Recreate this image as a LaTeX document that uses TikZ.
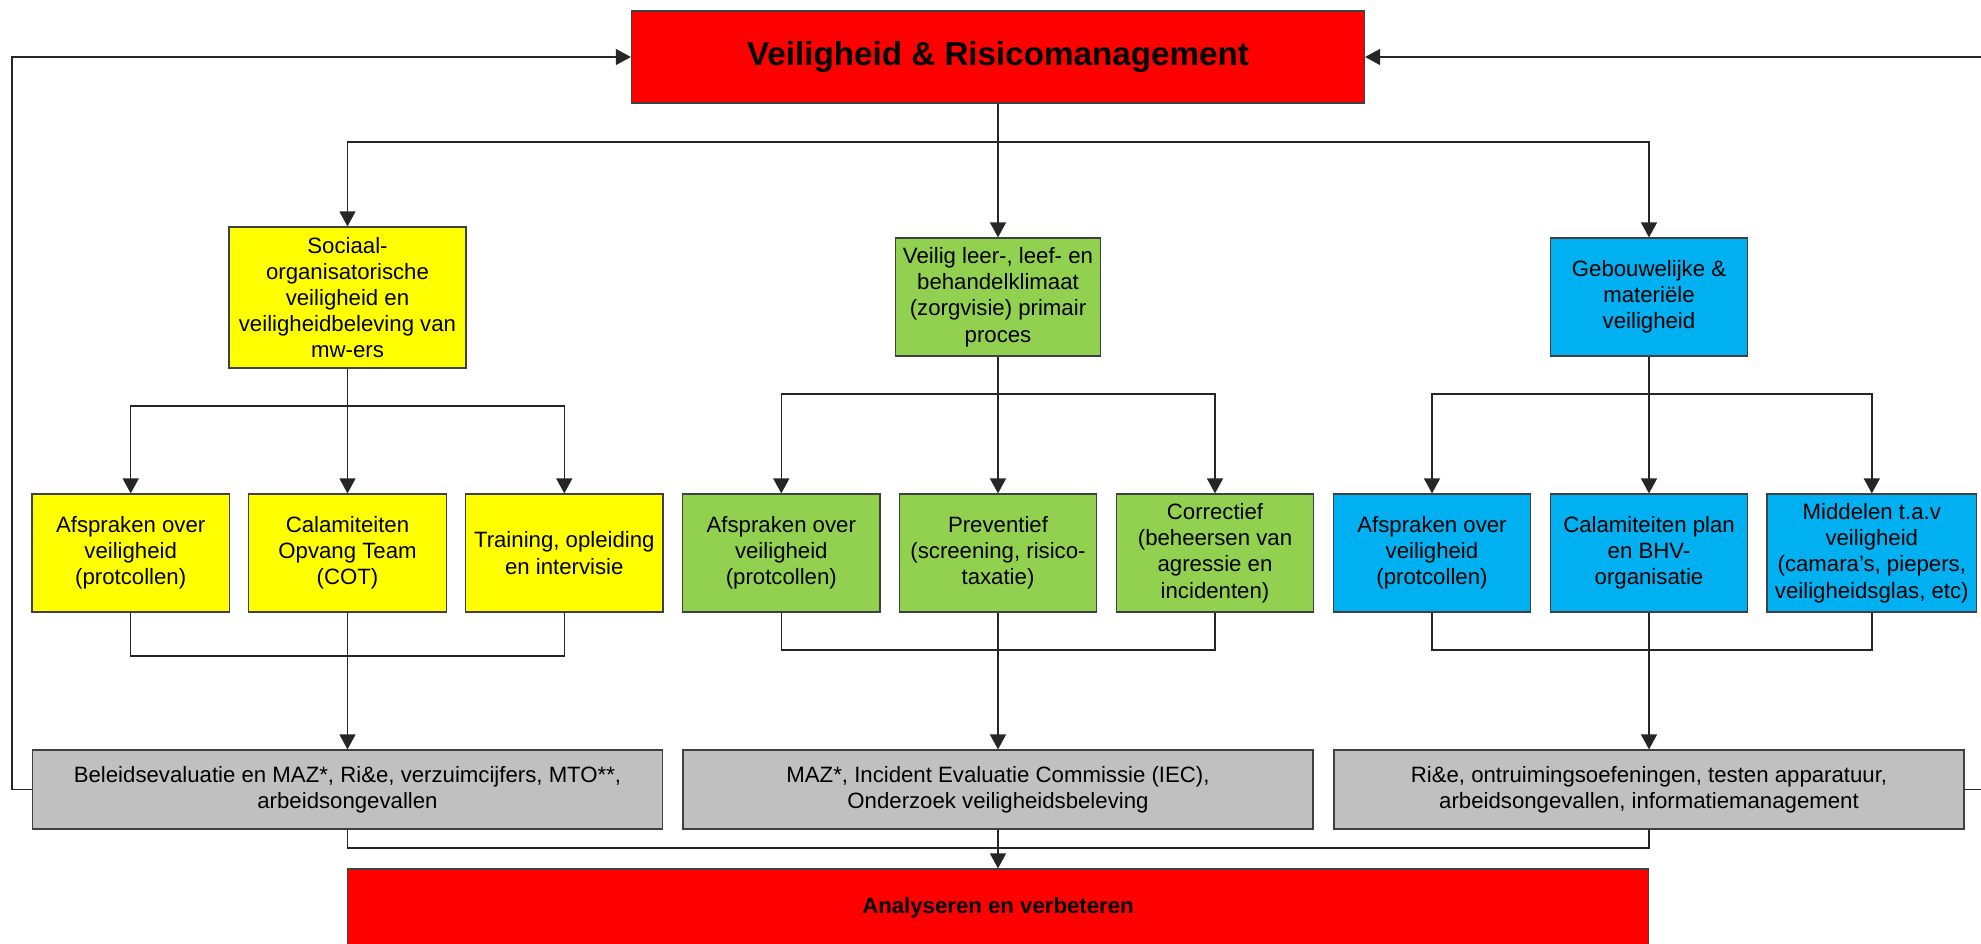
\documentclass[tikz,border=0pt]{standalone}
\usepackage{fontspec}
\setmainfont{Liberation Sans}
\usetikzlibrary{arrows.meta}
\definecolor{cred}{HTML}{FF0000}
\definecolor{cyel}{HTML}{FFFF00}
\definecolor{cgrn}{HTML}{92D050}
\definecolor{cblu}{HTML}{00B0F0}
\definecolor{cgry}{HTML}{C0C0C0}
\begin{document}
\begin{tikzpicture}[x=0.5pt,y=-0.5pt,
  box/.style={draw=black!75, line width=0.6pt, align=center, inner sep=0pt,
    font=\fontsize{11.1}{13.1}\selectfont},
  lthree/.style={box, minimum width=98.7pt, minimum height=59pt},
  gbox/.style={box, fill=cgry, minimum width=315pt, minimum height=39.5pt},
  ln/.style={draw=black!85, line width=0.7pt},
  arr/.style={ln, -{Triangle[length=7.5pt,width=8pt]}}
]
\useasboundingbox (0,0) rectangle (1981,943);
\clip (0,0) rectangle (1981,943);

% top
\node[box, fill=cred, minimum width=366.5pt, minimum height=46pt,
  font=\fontsize{16.6}{20}\selectfont\bfseries] (top) at (998,57) {Veiligheid \& Risicomanagement};

% level 2
\node[box, fill=cyel, minimum width=118.5pt, minimum height=70.5pt] (soc) at (347.5,297.5)
  {Sociaal-\\organisatorische\\veiligheid en\\veiligheidbeleving van\\mw-ers};
\node[box, fill=cgrn, minimum width=102.5pt, minimum height=59pt] (klim) at (998,297)
  {Veilig leer-, leef- en\\behandelklimaat\\(zorgvisie) primair\\proces};
\node[box, fill=cblu, minimum width=98.5pt, minimum height=59pt] (geb) at (1649,297)
  {Gebouwelijke \&\\materiële\\veiligheid};

% level 3
\node[lthree, fill=cyel] (y1) at (130.7,553) {Afspraken over\\veiligheid\\(protcollen)};
\node[lthree, fill=cyel] (y2) at (347.5,553) {Calamiteiten\\Opvang Team\\(COT)};
\node[lthree, fill=cyel] (y3) at (564.3,553) {Training, opleiding\\en intervisie};
\node[lthree, fill=cgrn] (n1) at (781.3,553) {Afspraken over\\veiligheid\\(protcollen)};
\node[lthree, fill=cgrn] (n2) at (998,553) {Preventief\\(screening, risico-\\taxatie)};
\node[lthree, fill=cgrn] (n3) at (1215,553) {Correctief\\(beheersen van\\agressie en\\incidenten)};
\node[lthree, fill=cblu] (b1n) at (1432,553) {Afspraken over\\veiligheid\\(protcollen)};
\node[lthree, fill=cblu] (b2n) at (1649,553) {Calamiteiten plan\\en BHV-\\organisatie};
\node[lthree, fill=cblu, minimum width=104.8pt] (b3n) at (1871.8,553) {Middelen t.a.v\\veiligheid\\(camara’s, piepers,\\veiligheidsglas, etc)};

% gray
\node[gbox] (g1) at (347.5,789.5) {Beleidsevaluatie en MAZ*, Ri\&e, verzuimcijfers, MTO**,\\arbeidsongevallen};
\node[gbox] (g2) at (998,789.5) {MAZ*, Incident Evaluatie Commissie (IEC),\\Onderzoek veiligheidsbeleving};
\node[gbox] (g3) at (1649,789.5) {Ri\&e, ontruimingsoefeningen, testen apparatuur,\\arbeidsongevallen, informatiemanagement};

% bottom
\node[box, fill=cred, minimum width=650.5pt, minimum height=39pt,
  font=\fontsize{11.1}{13.1}\selectfont\bfseries] (ana) at (998,908) {Analyseren en verbeteren};

% coordinates
\coordinate (s0) at (998,142);
\coordinate (k1) at (347.5,406);
\coordinate (k2) at (998,394);
\coordinate (k3) at (1649,394);
\coordinate (j1) at (347.5,656);
\coordinate (j2) at (998,650);
\coordinate (j3) at (1649,650);
\coordinate (j4) at (998,848);

% connectors
\draw[arr] (top.south) -- (klim.north);
\draw[arr] (s0) -| (soc.north);
\draw[arr] (s0) -| (geb.north);

\draw[arr] (soc.south) -- (y2.north);
\draw[arr] (k1) -| (y1.north);
\draw[arr] (k1) -| (y3.north);
\draw[arr] (klim.south) -- (n2.north);
\draw[arr] (k2) -| (n1.north);
\draw[arr] (k2) -| (n3.north);
\draw[arr] (geb.south) -- (b2n.north);
\draw[arr] (k3) -| (b1n.north);
\draw[arr] (k3) -| (b3n.north);

\draw[ln] (y1.south) |- (j1) -| (y3.south);
\draw[arr] (y2.south) -- (g1.north);
\draw[ln] (n1.south) |- (j2) -| (n3.south);
\draw[arr] (n2.south) -- (g2.north);
\draw[ln] (b1n.south) |- (j3) -| (b3n.south);
\draw[arr] (b2n.south) -- (g3.north);

\draw[ln] (g1.south) |- (j4) -| (g3.south);
\draw[arr] (g2.south) -- (ana.north);

\draw[arr] (g1.west) -- ++(-20,0) |- (top.west);
\draw[arr] (g3.east) -- ++(40,0) |- (top.east);
\end{tikzpicture}
\end{document}
